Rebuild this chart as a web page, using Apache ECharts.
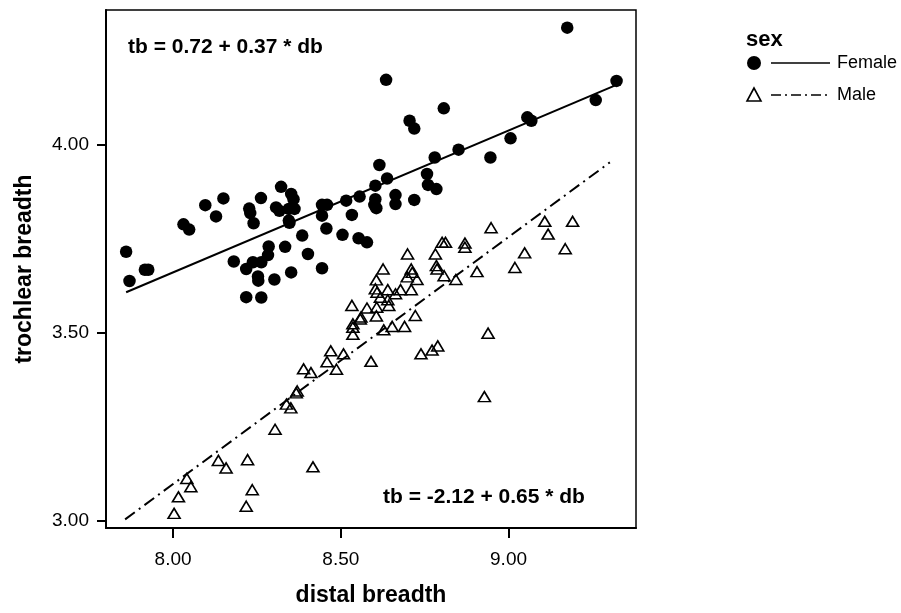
<!DOCTYPE html>
<html><head><meta charset="utf-8">
<script src="https://cdn.jsdelivr.net/npm/echarts@6/dist/echarts.min.js"></script>
<style>html,body{margin:0;padding:0;background:#fff}#c{width:901px;height:613px}</style>
</head><body><div id="c"></div>
<script>
const femaleDb = [7.860,7.870,7.916,7.926,8.031,8.048,8.096,8.128,8.150,8.227,8.230,8.240,8.262,8.322,8.352,8.359,8.307,8.317,8.345,8.362,8.345,8.347,8.385,8.402,8.334,8.285,8.283,8.181,8.238,8.263,8.218,8.253,8.254,8.302,8.352,8.218,8.263,8.635,8.807,8.705,8.719,8.851,8.780,8.615,8.638,8.757,8.760,8.785,8.603,8.556,8.516,8.603,8.600,8.606,8.663,8.663,8.719,8.444,8.459,8.444,8.533,8.457,8.505,8.553,8.578,8.444,9.175,9.322,9.260,9.056,9.068,9.006,8.946];
const femaleTb = [3.716,3.638,3.668,3.668,3.789,3.775,3.840,3.810,3.858,3.831,3.819,3.792,3.859,3.889,3.870,3.856,3.834,3.825,3.830,3.830,3.799,3.793,3.759,3.710,3.729,3.730,3.707,3.690,3.688,3.688,3.670,3.650,3.639,3.642,3.661,3.595,3.594,4.174,4.098,4.065,4.044,3.988,3.967,3.947,3.911,3.923,3.894,3.883,3.892,3.863,3.852,3.856,3.841,3.832,3.867,3.843,3.854,3.841,3.841,3.812,3.814,3.778,3.761,3.752,3.741,3.672,4.313,4.171,4.120,4.074,4.065,4.018,3.967];
const maleDb = [8.802,8.812,8.870,8.870,8.699,8.782,8.626,8.710,8.713,8.698,8.727,8.785,8.787,8.808,8.843,8.906,8.606,8.603,8.608,8.640,8.678,8.663,8.710,8.618,8.640,8.643,8.533,8.578,8.607,8.606,8.560,8.558,8.536,8.536,8.536,8.722,8.628,8.653,8.690,8.470,8.508,8.459,8.487,8.590,8.389,8.411,8.739,8.772,8.789,8.948,9.108,9.191,9.118,9.048,9.169,9.019,8.939,8.928,8.367,8.370,8.338,8.351,8.304,8.222,8.135,8.158,8.417,8.041,8.053,8.236,8.016,8.218,8.003];
const maleTb = [3.741,3.741,3.739,3.728,3.710,3.710,3.670,3.670,3.661,3.649,3.642,3.679,3.670,3.652,3.642,3.663,3.641,3.617,3.608,3.615,3.615,3.604,3.615,3.595,3.588,3.573,3.573,3.566,3.568,3.545,3.542,3.537,3.524,3.515,3.496,3.546,3.508,3.517,3.517,3.452,3.444,3.423,3.403,3.424,3.404,3.394,3.444,3.454,3.465,3.780,3.797,3.797,3.763,3.713,3.724,3.674,3.499,3.330,3.340,3.345,3.310,3.300,3.243,3.162,3.160,3.140,3.143,3.112,3.090,3.082,3.063,3.038,3.019];
const femaleFitDb = [7.860, 9.320];
const femaleFitTb = [3.608, 4.160];
const maleFitDb = [7.857, 9.302];
const maleFitTb = [3.003, 3.954];
const xTicks = [8.0, 8.5, 9.0];
const yTicks = [3.0, 3.5, 4.0];
const xRange = [7.80, 9.38];
const yRange = [2.98, 4.36];
const xTitle = 'distal breadth';
const yTitle = 'trochlear breadth';
const legendTitle = 'sex';
const legendNames = ['Female', 'Male'];
const femaleEq = 'tb = 0.72 + 0.37 * db';
const maleEq = 'tb = -2.12 + 0.65 * db';

const zip = (a, b) => a.map((v, i) => [v, b[i]]);
const FF = '"Liberation Sans", Arial, sans-serif';
const chart = echarts.init(document.getElementById('c'), null, {renderer: 'canvas'});
const axisCommon = {
  type: 'value',
  nameLocation: 'middle',
  nameTextStyle: {fontFamily: FF, fontWeight: 'bold', fontSize: 23, color: '#000'},
  axisLine: {show: true, onZero: false, lineStyle: {color: '#000', width: 2}},
  splitLine: {show: false}
};
chart.setOption({
  animation: false,
  backgroundColor: '#fff',
  grid: {left: 106, right: 265, top: 10, bottom: 85, containLabel: false, outerBoundsMode: 'none',
         show: true, borderColor: '#000', borderWidth: 1.5},
  xAxis: Object.assign({}, axisCommon, {
    min: xRange[0], max: xRange[1], name: xTitle, nameGap: 56,
    axisTick: {show: true, customValues: xTicks, length: 10, lineStyle: {color: '#000', width: 2}},
    axisLabel: {customValues: xTicks, formatter: v => Number(v).toFixed(2), fontFamily: FF, fontSize: 19, color: '#000', margin: 22}
  }),
  yAxis: Object.assign({}, axisCommon, {
    min: yRange[0], max: yRange[1], name: yTitle, nameGap: 70, nameRotate: 90,
    axisTick: {show: true, customValues: yTicks, length: 9, lineStyle: {color: '#000', width: 2}},
    axisLabel: {customValues: yTicks, formatter: v => Number(v).toFixed(2), fontFamily: FF, fontSize: 19, color: '#000', margin: 17}
  }),
  series: [
    {name: legendNames[0], type: 'scatter', data: zip(femaleDb, femaleTb), symbol: 'circle', symbolSize: 12.5,
     itemStyle: {color: '#000', opacity: 1}, z: 3},
    {name: legendNames[1], type: 'scatter', data: zip(maleDb, maleTb), symbol: 'triangle', symbolSize: [12, 10],
     itemStyle: {color: 'rgba(0,0,0,0)', borderColor: '#000', borderWidth: 1.6, opacity: 1}, z: 3},
    {type: 'line', data: zip(femaleFitDb, femaleFitTb), symbol: 'none', lineStyle: {color: '#000', width: 2}, z: 2},
    {type: 'line', data: zip(maleFitDb, maleFitTb), symbol: 'none', lineStyle: {color: '#000', width: 2, type: [12, 5, 2, 5]}, z: 2}
  ],
  graphic: [
    {type: 'text', style: {text: femaleEq, x: 128, y: 47, font: 'bold 21px ' + FF, fill: '#000', textVerticalAlign: 'middle'}},
    {type: 'text', style: {text: maleEq, x: 383, y: 497, font: 'bold 21px ' + FF, fill: '#000', textVerticalAlign: 'middle'}},
    {type: 'text', style: {text: legendTitle, x: 746, y: 40, font: 'bold 22px ' + FF, fill: '#000', textVerticalAlign: 'middle'}},
    {type: 'circle', shape: {cx: 754, cy: 63, r: 7}, style: {fill: '#000'}},
    {type: 'line', shape: {x1: 771, y1: 63, x2: 830, y2: 63}, style: {stroke: '#000', lineWidth: 1.5}},
    {type: 'text', style: {text: legendNames[0], x: 837, y: 63, font: '18px ' + FF, fill: '#000', textVerticalAlign: 'middle'}},
    {type: 'polygon', shape: {points: [[754, 88], [747, 101], [761, 101]]}, style: {fill: 'none', stroke: '#000', lineWidth: 1.6}},
    {type: 'line', shape: {x1: 771, y1: 95, x2: 830, y2: 95}, style: {stroke: '#000', lineWidth: 1.5, lineDash: [10, 4, 2, 4]}},
    {type: 'text', style: {text: legendNames[1], x: 837, y: 95, font: '18px ' + FF, fill: '#000', textVerticalAlign: 'middle'}}
  ]
});
</script></body></html>
